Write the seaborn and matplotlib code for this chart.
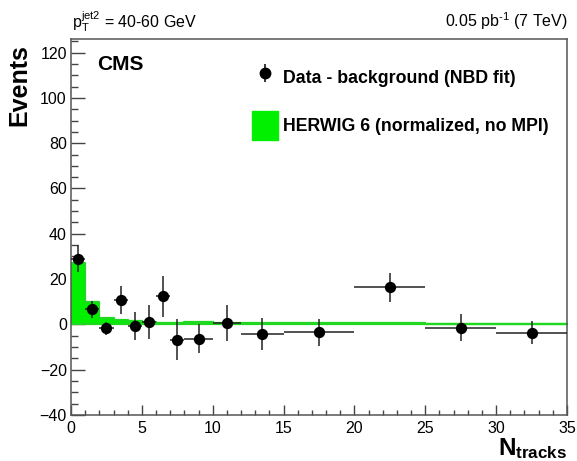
import numpy as np
import pandas as pd
import matplotlib
matplotlib.use("Agg")
import matplotlib.pyplot as plt
import seaborn as sns
from matplotlib.patches import Patch
from matplotlib.ticker import MultipleLocator

# ---- data ----
bin_edges = [0, 1, 2, 3, 4, 5, 6, 7, 8, 10, 12, 15, 20, 25, 30, 35]
herwig = [27.2, 9.8, 3.0, 1.9, 1.4, 0.9, 0.6, 0.4, 1.0, 0.6, 0.6, 0.5, 0.5, 0.2, 0.2]
data_x = [0.5, 1.5, 2.5, 3.5, 4.5, 5.5, 6.5, 7.5, 9, 11, 13.5, 17.5, 22.5, 27.5, 32.5]
data_xerr = [0.5, 0.5, 0.5, 0.5, 0.5, 0.5, 0.5, 0.5, 1, 1, 1.5, 2.5, 2.5, 2.5, 2.5]
data_y = [29.0, 6.6, -1.8, 10.7, -0.7, 1.0, 12.4, -6.8, -6.3, 0.7, -4.1, -3.4, 16.4, -1.5, -3.7]
data_yerr = [6.0, 3.7, 3.0, 6.2, 6.2, 7.5, 9.0, 9.0, 6.5, 8.0, 7.0, 6.0, 6.4, 6.0, 5.0]
x_ticks = [0, 5, 10, 15, 20, 25, 30, 35]
y_ticks = [-40, -20, 0, 20, 40, 60, 80, 100, 120]
leg_labels = ["Data - background (NBD fit)", "HERWIG 6 (normalized, no MPI)"]

sns.set_theme(style="white")
plt.rcParams["font.family"] = ["Liberation Sans", "DejaVu Sans"]
plt.rcParams["text.color"] = "black"
plt.rcParams["axes.labelcolor"] = "black"
plt.rcParams["mathtext.fontset"] = "custom"
plt.rcParams["mathtext.rm"] = "Liberation Sans"
plt.rcParams["mathtext.it"] = "Liberation Sans:italic"
plt.rcParams["mathtext.bf"] = "Liberation Sans:bold"

W, H = 577, 461
fig = plt.figure(figsize=(W / 100, H / 100), dpi=100)
ax = fig.add_axes([71 / W, 1 - 415 / H, (567 - 71) / W, (415 - 39) / H])

GREEN = "#00f000"
hist_df = pd.DataFrame({"x": [(bin_edges[i] + bin_edges[i + 1]) / 2 for i in range(len(herwig))],
                        "w": herwig})
sns.histplot(data=hist_df, x="x", weights="w", bins=bin_edges, element="step",
             fill=True, color=GREEN, alpha=1.0, linewidth=1.6, edgecolor="#1fd81f", ax=ax)

ax.errorbar(data_x, data_y, xerr=data_xerr, yerr=data_yerr, fmt="none",
            ecolor="#222222", elinewidth=1.1, capsize=0, zorder=3)
sns.scatterplot(x=data_x, y=data_y, color="black", s=66, edgecolor="black",
                linewidth=0, zorder=4, ax=ax)

ax.set_xlim(0, 35)
ax.set_ylim(-40, 126)
ax.set_xticks(x_ticks)
ax.set_yticks(y_ticks)
ax.xaxis.set_minor_locator(MultipleLocator(1))
ax.yaxis.set_minor_locator(MultipleLocator(5))
ax.set_xlabel("")
ax.set_ylabel("")
ax.tick_params(axis="both", which="both", direction="in", top=False, right=False,
               left=True, bottom=True,
               colors="#444444", labelcolor="black", labelsize=11.5, width=1.0)
ax.tick_params(axis="x", which="major", length=7, pad=4)
ax.tick_params(axis="x", which="minor", length=3.6)
ax.tick_params(axis="y", which="major", length=10, pad=3)
ax.tick_params(axis="y", which="minor", length=5)
for s in ax.spines.values():
    s.set_color("#555555")
    s.set_linewidth(1.1)
ax.grid(False)

# legend
data_handle = ax.errorbar([], [], yerr=[], fmt="o", color="black", markersize=7.5,
                          elinewidth=1.1)
green_handle = Patch(facecolor=GREEN, edgecolor=GREEN)
leg = fig.legend([data_handle, green_handle], leg_labels, loc="upper left",
                 bbox_to_anchor=(252 / W, 1 - 63 / H), frameon=False,
                 prop={"weight": "bold", "size": 12.8}, handlelength=1.45,
                 handleheight=2.1, handletextpad=0.3, labelspacing=1.1,
                 borderpad=0, borderaxespad=0)
for t in leg.get_texts():
    t.set_color("black")

fig.text(97 / W, 1 - 70 / H, "CMS", fontsize=15, fontweight="bold", va="baseline", ha="left")
fig.text(72 / W, 1 - 27 / H, r"p$_{\mathrm{T}}^{\mathrm{jet2}}$ = 40-60 GeV", fontsize=11.5,
         ha="left", va="baseline")
fig.text(568 / W, 1 - 27 / H, "0.05 pb$^{\\mathrm{\u2010}\\mathrm{1}}$ (7 TeV)", fontsize=11.5,
         ha="right", va="baseline")
fig.text(567 / W, 1 - 455 / H, r"$\mathbf{N_{tracks}}$", fontsize=17.5, ha="right",
         va="baseline")
fig.text(19 / W, 1 - 44 / H, "Events", fontsize=18, fontweight="bold", rotation=90,
         ha="center", va="top")

fig.savefig("out.png", dpi=100)
